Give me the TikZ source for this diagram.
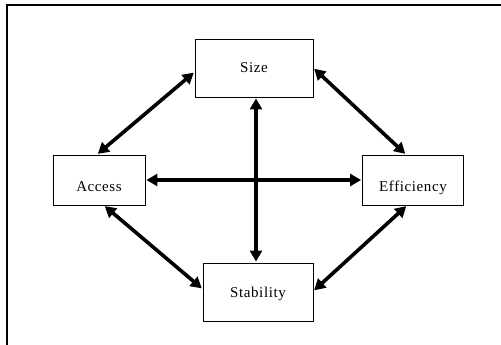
\documentclass[tikz,border=0pt]{standalone}
\usepackage{fontspec}
\usetikzlibrary{arrows.meta}
\newfontfamily\boxfont[LetterSpace=4]{Liberation Serif}

\begin{document}
\begin{tikzpicture}[x=1pt, y=-1pt,
    box/.style={draw, line width=0.9pt, inner sep=0pt, minimum height=58pt, text height=10pt, text depth=0pt, font=\boxfont\fontsize{15}{18}\selectfont},
    sidebox/.style={box, minimum height=50pt, text height=23pt},
    link/.style={{Triangle[length=11pt,width=12pt]}-{Triangle[length=11pt,width=12pt]}, line width=3.6pt, shorten <=1pt, shorten >=1pt}]
    \useasboundingbox (0,0) rectangle (501,345);
    \draw [line width=2pt] (7,345) -- (7,5) -- (501,5);

    \node [box, minimum width=118pt] (size) at (254, 68) {Size};
    \node [sidebox, minimum width=92pt] (access) at (99, 180) {Access};
    \node [sidebox, minimum width=101pt] (effic) at (413, 180) {Efficiency};
    \node [box, minimum width=110pt] (stab) at (258, 292) {Stability};

    \draw [link] ([xshift=2pt]size.south) -- ([xshift=-2pt]stab.north);
    \draw [link] (access.east) -- (effic.west);
    \draw [link] ([xshift=-2pt]access.north) -- ([yshift=-4pt]size.west);
    \draw [link] (size.east) -- ([xshift=-7pt]effic.north);
    \draw [link] ([xshift=5pt]access.south) -- ([yshift=3pt]stab.west);
    \draw [link] ([yshift=1pt]stab.east) -- ([xshift=-6pt]effic.south);
  \end{tikzpicture}
\end{document}
